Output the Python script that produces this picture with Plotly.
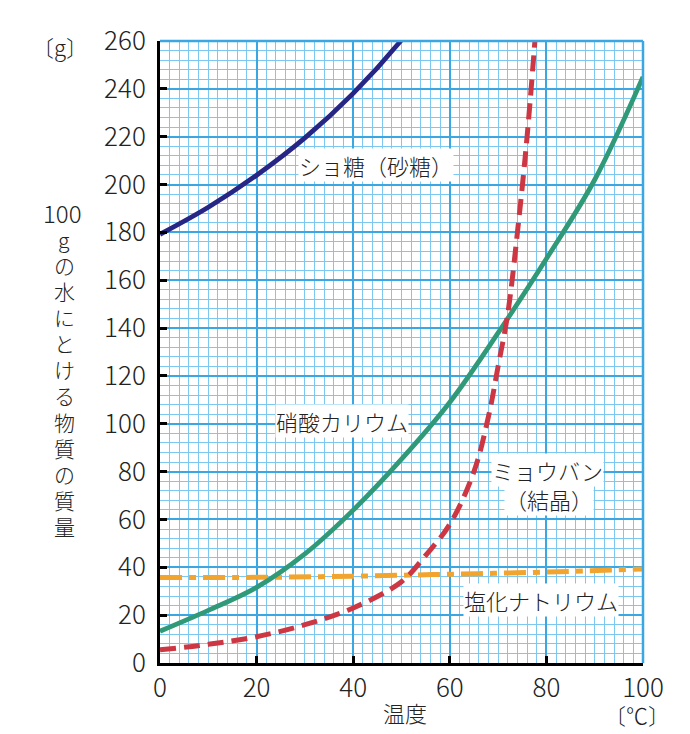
import plotly.graph_objects as go

# --- data ---
temp_sucrose = [0, 10, 20, 30, 40, 50, 60]
sucrose = [179.2, 190.5, 203.9, 219.5, 238.1, 260.4, 287.3]

temp_kno3 = [0, 10, 20, 30, 40, 50, 60, 70, 80, 90, 100]
kno3 = [13.3, 22, 31.6, 45.6, 63.9, 85.2, 109, 138, 169, 202, 245]

temp_alum = [0, 10, 20, 30, 40, 50, 55, 60, 65, 68, 70, 72, 74, 76, 78]
alum = [5.5, 7.8, 11, 16, 23, 34, 45, 58, 80, 103, 124, 146, 180, 220, 270]

temp_nacl = [0, 20, 40, 60, 80, 100]
nacl = [35.7, 35.8, 36.3, 37.1, 38.0, 39.3]

x_ticks = [0, 20, 40, 60, 80, 100]
y_ticks = list(range(0, 261, 20))

FONT = "Noto Sans CJK JP"
TXT = "#222222"
WGT = 300

fig = go.Figure()
fig.add_trace(go.Scatter(x=temp_nacl, y=nacl, mode="lines",
                         line=dict(color="#f2a52e", width=5, dash="22px,7px,7px,7px", shape="spline")))
fig.add_trace(go.Scatter(x=temp_kno3, y=kno3, mode="lines",
                         line=dict(color="#2f9978", width=4.8, shape="spline")))
fig.add_trace(go.Scatter(x=temp_alum, y=alum, mode="lines",
                         line=dict(color="#cc3743", width=5, dash="16px,8px", shape="spline")))
fig.add_trace(go.Scatter(x=temp_sucrose, y=sucrose, mode="lines",
                         line=dict(color="#272685", width=4.8, shape="spline")))

major = "#3aa6e2"
minor_c = "rgb(125,200,240)"
tickfont = dict(family=FONT, size=26, color=TXT, weight=WGT)

fig.update_xaxes(range=[0, 100], tickvals=x_ticks, showgrid=True, gridcolor=major, gridwidth=2,
                 minor=dict(dtick=2, showgrid=True, gridcolor=minor_c, gridwidth=1.4, ticks=""),
                 showline=True, linecolor="black", linewidth=3, ticks="inside", ticklen=7,
                 tickwidth=2.5, tickcolor="black", zeroline=False,
                 tickfont=tickfont, fixedrange=True)
fig.update_yaxes(range=[0, 260], tickvals=y_ticks, showgrid=True, gridcolor=major, gridwidth=2,
                 minor=dict(dtick=4, showgrid=True, gridcolor=minor_c, gridwidth=1.4, ticks=""),
                 showline=True, linecolor="black", linewidth=3, ticks="inside", ticklen=7,
                 tickwidth=2.5, tickcolor="black", zeroline=False, ticklabelstandoff=6,
                 tickfont=tickfont, fixedrange=True)

# top and right border (blue)
fig.add_shape(type="line", xref="paper", yref="paper", x0=0, x1=1, y0=1, y1=1,
              line=dict(color=major, width=2.5))
fig.add_shape(type="line", xref="paper", yref="paper", x0=1, x1=1, y0=0, y1=1,
              line=dict(color=major, width=2.5))

labels = [
    ("ショ糖（砂糖）", 44.8, 208),
    ("硝酸カリウム", 37.7, 101),
    ("ミョウバン", 80.3, 80.5),
    ("（結晶）", 80.5, 68.5),
    ("塩化ナトリウム", 78.9, 26.2),
]
for t, x, y in labels:
    fig.add_annotation(text=t, x=x, y=y, xref="x", yref="y", showarrow=False,
                       font=dict(family=FONT, size=22, color=TXT, weight=WGT),
                       bgcolor="white", borderpad=0)

# page is drawn with an 8px body margin: compensate
OFF = 8
W0, W1, H0, H1 = 160, 643, 37, 663
def px(xp, yp):
    return (xp - W0) / (W1 - W0), (H1 - yp) / (H1 - H0)

ytitle = ["100", "g", "の", "水", "に", "と", "け", "る", "物", "質", "の", "質", "量"]
for i, ch in enumerate(ytitle):
    xx, yy = px(64 if i else 62, 210 + i * 26.25)
    fig.add_annotation(text=ch, x=xx, y=yy, xref="paper", yref="paper", showarrow=False,
                       font=dict(family=FONT, size=24 if i == 0 else 21, color=TXT, weight=WGT),
                       xanchor="center", yanchor="middle")

for t, xp, yp in [("〔g〕", 60, 42), ("温度", 405, 712), ("〔℃〕", 637, 714)]:
    xx, yy = px(xp, yp)
    fig.add_annotation(text=t, x=xx, y=yy, xref="paper", yref="paper", showarrow=False,
                       font=dict(family=FONT, size=22, color=TXT, weight=WGT),
                       xanchor="center", yanchor="middle")

fig.update_layout(width=690 - OFF, height=734 - OFF, showlegend=False,
                  margin=dict(l=W0 - OFF, r=690 - W1, t=H0 - OFF, b=734 - H1),
                  paper_bgcolor="white", plot_bgcolor="white")

fig.write_html("out.html")
